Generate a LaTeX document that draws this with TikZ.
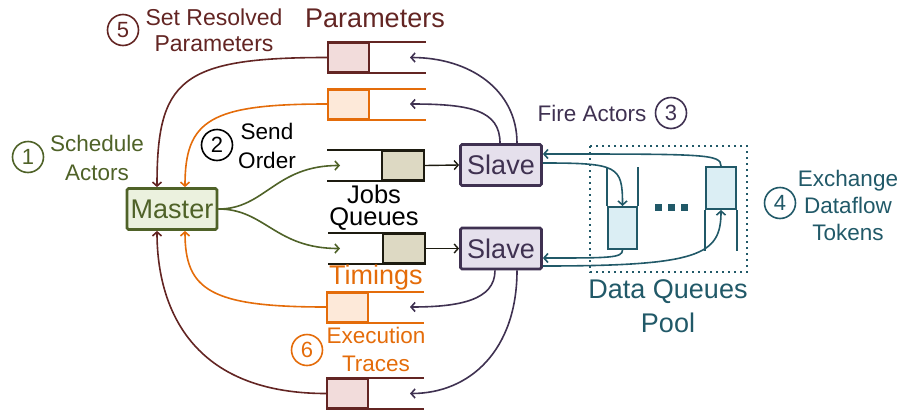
\documentclass[tikz,border=0pt]{standalone}
\usepackage{fontspec}
\setmainfont{Liberation Sans}
\usetikzlibrary{arrows.meta,calc,positioning}
\definecolor{brownq}{HTML}{632523}
\definecolor{brownfill}{HTML}{F2DCDB}
\definecolor{orangeq}{HTML}{E46C0A}
\definecolor{orangefill}{HTML}{FDE9D9}
\definecolor{oliveq}{HTML}{4F6228}
\definecolor{olivefill}{HTML}{EBF1DE}
\definecolor{purpleq}{HTML}{3F3151}
\definecolor{purplefill}{HTML}{E5E0EC}
\definecolor{tealq}{HTML}{215968}
\definecolor{tealfill}{HTML}{DBEEF4}
\definecolor{jobsq}{HTML}{1D1B10}
\definecolor{jobsfill}{HTML}{DDD9C3}

\begin{document}
\begin{tikzpicture}[
                x=1pt,y=-1pt,
                big/.style={font=\fontsize{27}{29}\selectfont,align=center},
                small/.style={font=\fontsize{22.5}{27}\selectfont,align=center},
                num/.style={circle,draw,line width=1.6pt,minimum size=31pt,inner sep=0pt,
                    font=\fontsize{22}{24}\selectfont},
                qbox/.style={draw,line width=2pt,minimum width=41pt,minimum height=29pt,inner sep=0pt},
                qline/.style={line width=2pt},
                actor/.style={draw,line width=2.8pt,rounded corners=1.5pt,minimum height=41pt,
                    inner sep=0pt,font=\fontsize{27}{29}\selectfont},
                conn/.style={line width=1.6pt,-{Straight Barb[length=4pt,width=9pt]}}
            ]
                \useasboundingbox (0,0) rectangle (905,410);

                % actors
                \node[actor,draw=oliveq,fill=olivefill,text=oliveq,minimum width=90pt] (master) at (172,209) {Master};
                \node[actor,draw=purpleq,fill=purplefill,text=purpleq,minimum width=81pt] (slave1) at (501,165) {Slave};
                \node[actor,draw=purpleq,fill=purplefill,text=purpleq,minimum width=81pt] (slave2) at (501,248.5) {Slave};

                % queues
                \node[qbox,draw=brownq,fill=brownfill]   (parq)   at (348.5,57.5) {};
                \node[qbox,draw=orangeq,fill=orangefill] (resq)   at (348.5,104) {};
                \node[qbox,draw=jobsq,fill=jobsfill,minimum width=42pt] (jobq1) at (403,165.5) {};
                \node[qbox,draw=jobsq,fill=jobsfill,minimum width=42pt] (jobq2) at (404,248.5) {};
                \node[qbox,draw=orangeq,fill=orangefill] (timq)   at (347.5,307) {};
                \node[qbox,draw=brownq,fill=brownfill]   (traceq) at (347.5,393.5) {};
                \draw[qline,brownq]  (parq.north west) -- ++(99,0) (parq.south west) -- ++(99,0);
                \draw[qline,orangeq] (resq.north west) -- ++(99,0) (resq.south west) -- ++(99,0);
                \draw[qline,jobsq]   (jobq1.north east) -- ++(-98,0) (jobq1.south east) -- ++(-98,0);
                \draw[qline,jobsq]   (jobq2.north east) -- ++(-98,0) (jobq2.south east) -- ++(-98,0);
                \draw[qline,orangeq] (timq.north west) -- ++(98,0) (timq.south west) -- ++(98,0);
                \draw[qline,brownq]  (traceq.north west) -- ++(98,0) (traceq.south west) -- ++(98,0);

                \coordinate (parin)   at (410,57.5);
                \coordinate (resin)   at (410,104);
                \coordinate (jobin1)  at (340,165.5);
                \coordinate (jobin2)  at (340,248.5);
                \coordinate (timin)   at (410,307);
                \coordinate (tracein) at (410,393.5);

                % data queues pool
                \draw[tealq,line width=1.6pt,dash pattern=on 1.6pt off 4.4pt] (590,146) rectangle (747,272);
                \node[qbox,draw=tealq,fill=tealfill,minimum width=29pt,minimum height=42pt] (dq1) at (622.5,228) {};
                \node[qbox,draw=tealq,fill=tealfill,minimum width=30pt,minimum height=42pt] (dq2) at (721,188) {};
                \draw[qline,tealq] (dq1.north west) -- ++(0,-39) (dq1.north east) -- ++(0,-39);
                \draw[qline,tealq] (dq2.south west) -- ++(0,41) (dq2.south east) -- ++(0,41);
                \foreach \x in {658,671,684}
                    \fill[tealq] (\x-3.5,203.5) rectangle ++(7,7);

                % labels
                \node[big,text=brownq] (partitle) at (375,18) {Parameters};
                \node[num,brownq] (n5) at (123,30) {5};
                \node[small,text=brownq,font=\fontsize{23}{26}\selectfont] (setres) at (214,30) {Set Resolved\\Parameters};
                \node[num,oliveq] (n1) at (28,157) {1};
                \node[small,text=oliveq,font=\fontsize{22.5}{29}\selectfont] (sched) at (97,158) {Schedule\\Actors};
                \node[num,black] (n2) at (217,145) {2};
                \node[small,font=\fontsize{22.5}{29}\selectfont] (send) at (267,146) {Send\\Order};
                \node[small,text=purpleq] (fire) at (592,113) {Fire Actors};
                \node[num,purpleq] (n3) at (671,113) {3};
                \node[num,tealq] (n4) at (780,203) {4};
                \node[small,text=tealq] (exch) at (848,205) {Exchange\\Dataflow\\Tokens};
                \node[big,text=tealq,font=\fontsize{27}{34}\selectfont] (pool) at (668,306) {Data Queues\\Pool};
                \node[big,font=\fontsize{25.5}{22}\selectfont] (jobs) at (374,208) {Jobs\\Queues};
                \node[big,text=orangeq] (tim) at (376,278) {Timings};
                \node[small,text=orangeq,font=\fontsize{22.5}{28}\selectfont] (exec) at (376,349) {Execution\\Traces};
                \node[num,orangeq] (n6) at (307,350) {6};

                \begin{scope}[conn]
                    % master side
                    \draw[oliveq] (master.east) .. controls (265,209) and (275,165.5) .. (jobin1);
                    \draw[oliveq] (master.east) .. controls (265,209) and (275,248.5) .. (jobin2);
                    \draw[brownq] (parq.west) .. controls (180,57.5) and (157,80) .. ([xshift=-15pt]master.north);
                    \draw[orangeq] (resq.west) .. controls (210,104) and (185,120) .. ([xshift=13pt]master.north);
                    \draw[orangeq] (timq.west) .. controls (210,307) and (185,290) .. ([xshift=13pt]master.south);
                    \draw[brownq] (traceq.west) .. controls (185,393.5) and (157,300) .. ([xshift=-15pt]master.south);
                    % slave side
                    \draw[jobsq,line width=1.4pt] (jobq1.east) -- (slave1.west);
                    \draw[jobsq,line width=1.4pt] (jobq2.east) -- (slave2.west);
                    \draw[purpleq] ([xshift=-1pt]slave1.north) .. controls (500,110) and (470,104) .. (resin);
                    \draw[purpleq] ([xshift=16pt]slave1.north) .. controls (517,90) and (470,57.5) .. (parin);
                    \draw[purpleq] ([xshift=-6pt]slave2.south) .. controls (495,300) and (460,307) .. (timin);
                    \draw[purpleq] ([xshift=16pt]slave2.south) .. controls (517,350) and (470,393.5) .. (tracein);
                    % data tokens
                    \draw[tealq] (dq2.north) .. controls (721,154) and (705,154) .. ([yshift=11pt]slave1.east);
                    \draw[tealq] ([yshift=2pt]slave1.east) .. controls (618,163) and (622.5,166) .. (dq1.north);
                    \draw[tealq] (dq1.south) .. controls (622.5,258) and (610,258) .. ([yshift=-9.5pt]slave2.east);
                    \draw[tealq] ([yshift=-17.5pt]slave2.east) .. controls (700,266) and (721,255) .. (dq2.south);
                \end{scope}
            \end{tikzpicture}
\end{document}
